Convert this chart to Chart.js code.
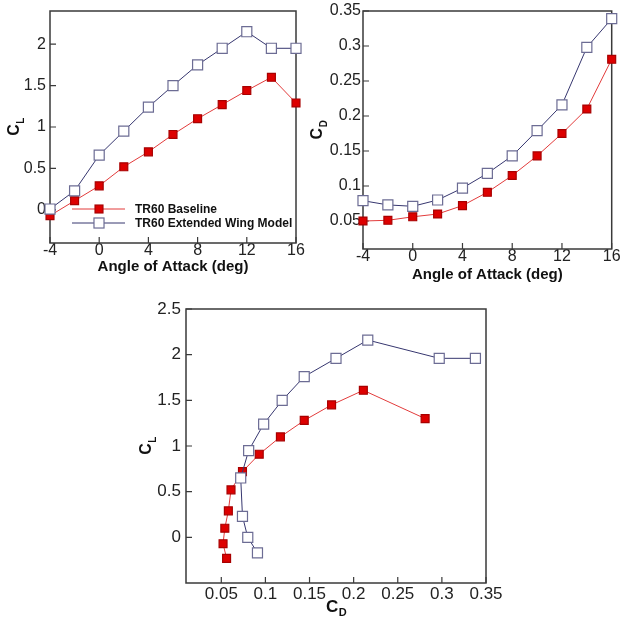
<!DOCTYPE html>
<html>
<head>
<meta charset="utf-8">
<title>TR60 aerodynamic coefficients</title>
<script src="https://cdn.jsdelivr.net/npm/chart.js@4.4.0/dist/chart.umd.min.js"></script>
<style>
    html, body { margin: 0; padding: 0; background: #fff; }
    #page { position: relative; width: 620px; height: 625px; overflow: hidden; }
    canvas { position: absolute; }
</style>
</head>
<body>
<div id="page">
    <canvas id="clChart" width="310" height="290" style="left:0;top:0"></canvas>
    <canvas id="cdChart" width="310" height="290" style="left:310px;top:0"></canvas>
    <canvas id="polarChart" width="390" height="335" style="left:130px;top:290px"></canvas>
</div>
<script>
    "use strict";

    var seriesNames = ['TR60 Baseline', 'TR60 Extended Wing Model'];

    var angles = [-4, -2, 0, 2, 4, 6, 8, 10, 12, 14, 16];
    var clBaseline = [-0.07, 0.11, 0.29, 0.52, 0.70, 0.91, 1.10, 1.27, 1.44, 1.60, 1.29];
    var clExtended = [0.01, 0.23, 0.66, 0.95, 1.24, 1.50, 1.75, 1.95, 2.15, 1.95, 1.95];
    var cdBaseline = [0.050, 0.051, 0.056, 0.060, 0.072, 0.091, 0.115, 0.143, 0.175, 0.210, 0.281];
    var cdExtended = [0.079, 0.073, 0.071, 0.080, 0.097, 0.118, 0.143, 0.179, 0.216, 0.298, 0.339];

    // drag polar (CL against CD)
    var polarCdBaseline = [0.056, 0.052, 0.054, 0.058, 0.061, 0.074, 0.093, 0.117, 0.144, 0.175, 0.211, 0.281];
    var polarClBaseline = [-0.23, -0.07, 0.10, 0.29, 0.52, 0.72, 0.91, 1.10, 1.28, 1.45, 1.61, 1.30];
    var polarCdExtended = [0.091, 0.080, 0.074, 0.072, 0.081, 0.098, 0.119, 0.144, 0.180, 0.216, 0.297, 0.338];
    var polarClExtended = [-0.17, 0.00, 0.23, 0.65, 0.95, 1.24, 1.50, 1.76, 1.96, 2.16, 1.96, 1.96];

    var angleTicks = [-4, 0, 4, 8, 12, 16];
    var clTicks = [0, 0.5, 1, 1.5, 2];
    var cdTicks = [0.05, 0.1, 0.15, 0.2, 0.25, 0.3, 0.35];
    var polarClTicks = [0, 0.5, 1, 1.5, 2, 2.5];
    var polarCdTicks = [0.05, 0.1, 0.15, 0.2, 0.25, 0.3, 0.35];

    var FONT = '"Liberation Sans", Arial, Helvetica, sans-serif';
    Chart.defaults.font.family = FONT;

    var seriesStyles = [
        { line: '#e23b3b', fill: '#dd0000', edge: '#a80000', radius: 5.6, order: 1 },
        { line: '#36366f', fill: '#ffffff', edge: '#6c6c94', radius: 7.1, order: 0 }
    ];

    function pairUp(xs, ys) {
        return xs.map(function (x, i) { return { x: x, y: ys[i] }; });
    }

    function makeSeries(index, xs, ys) {
        var st = seriesStyles[index];
        return {
            label: seriesNames[index],
            data: pairUp(xs, ys),
            showLine: true,
            borderColor: st.line,
            borderWidth: 1,
            pointStyle: 'rect',
            pointRadius: st.radius,
            pointHoverRadius: st.radius,
            pointBackgroundColor: st.fill,
            pointBorderColor: st.edge,
            pointBorderWidth: 1.2,
            order: st.order,
            clip: false
        };
    }

    function makeAxis(horizontal, min, max, tickValues, size, fontSize, pad, title) {
        return {
            type: 'linear',
            min: min,
            max: max,
            grid: { display: false, drawTicks: false },
            border: { display: false },
            ticks: {
                color: '#222',
                padding: pad,
                autoSkip: false,
                maxRotation: 0,
                font: { size: fontSize, lineHeight: 1 },
                callback: function (v) { return String(v); }
            },
            title: title || { display: false },
            afterBuildTicks: function (scale) {
                scale.ticks = tickValues.map(function (v) { return { value: v }; });
            },
            afterFit: function (scale) {
                if (horizontal) {
                    scale.height = size;
                } else {
                    scale.width = size;
                }
                scale.paddingLeft = 0;
                scale.paddingRight = 0;
                scale.paddingTop = 0;
                scale.paddingBottom = 0;
            }
        };
    }

    function angleTitle(padBottom) {
        return {
            display: true,
            text: 'Angle of Attack (deg)',
            color: '#111',
            font: { size: 15, weight: 'bold' },
            padding: { top: 0, bottom: padBottom }
        };
    }

    function drawSubLabel(ctx, main, sub, x, y, rotate, size) {
        var mainFont = 'bold ' + size + 'px ' + FONT;
        var subFont = 'bold ' + Math.round(size * 0.62) + 'px ' + FONT;
        ctx.save();
        ctx.translate(x, y);
        if (rotate) {
            ctx.rotate(-Math.PI / 2);
        }
        ctx.font = mainFont;
        var w1 = ctx.measureText(main).width;
        ctx.font = subFont;
        var w2 = ctx.measureText(sub).width;
        var start = -(w1 + w2) / 2;
        ctx.fillStyle = '#111';
        ctx.textAlign = 'left';
        ctx.textBaseline = 'middle';
        ctx.font = mainFont;
        ctx.fillText(main, start, 0);
        ctx.font = subFont;
        ctx.fillText(sub, start + w1 + 0.5, size * 0.38);
        ctx.restore();
    }

    // frame, inward tick marks, subscript titles and the inset legend
    var decorPlugin = {
        id: 'decor',
        beforeDatasetsDraw: function (chart) {
            var ctx = chart.ctx;
            var area = chart.chartArea;
            var xs = chart.scales.x;
            var ys = chart.scales.y;
            ctx.save();
            ctx.strokeStyle = '#3a3a3a';
            ctx.lineWidth = 1.5;
            ctx.strokeRect(area.left, area.top, area.right - area.left, area.bottom - area.top);
            ctx.lineWidth = 1.2;
            ctx.beginPath();
            xs.ticks.forEach(function (t) {
                var px = xs.getPixelForValue(t.value);
                ctx.moveTo(px, area.bottom);
                ctx.lineTo(px, area.bottom - 6);
            });
            ys.ticks.forEach(function (t) {
                var py = ys.getPixelForValue(t.value);
                ctx.moveTo(area.left, py);
                ctx.lineTo(area.left + 6, py);
            });
            ctx.stroke();
            ctx.restore();
        },
        afterDraw: function (chart, args, opts) {
            var ctx = chart.ctx;
            var area = chart.chartArea;
            var midY = (area.top + area.bottom) / 2;
            if (opts.yTitle) {
                drawSubLabel(ctx, 'C', opts.yTitle, area.left - opts.yTitleGap, midY, true, 16);
            }
            if (opts.xTitle) {
                drawSubLabel(ctx, 'C', opts.xTitle, (area.left + area.right) / 2, area.bottom + opts.xTitleGap, false, 17);
            }
            if (opts.legend) {
                var rows = [209, 223];
                ctx.save();
                chart.data.datasets.forEach(function (ds, i) {
                    var y = rows[i];
                    var side = ds.pointRadius * Math.SQRT1_2;
                    ctx.strokeStyle = ds.borderColor;
                    ctx.lineWidth = 1;
                    ctx.beginPath();
                    ctx.moveTo(72, y);
                    ctx.lineTo(125, y);
                    ctx.stroke();
                    ctx.fillStyle = ds.pointBackgroundColor;
                    ctx.fillRect(99 - side, y - side, side * 2, side * 2);
                    ctx.strokeStyle = ds.pointBorderColor;
                    ctx.lineWidth = 1.2;
                    ctx.strokeRect(99 - side, y - side, side * 2, side * 2);
                    ctx.fillStyle = '#111';
                    ctx.font = 'bold 12px ' + FONT;
                    ctx.textAlign = 'left';
                    ctx.textBaseline = 'middle';
                    ctx.fillText(ds.label, 135, y + 0.5);
                });
                ctx.restore();
            }
        }
    };

    function renderChart(canvasId, datasets, padding, scales, decor) {
        var canvas = document.getElementById(canvasId);
        if (!canvas) {
            return null;
        }
        return new Chart(canvas.getContext('2d'), {
            type: 'scatter',
            data: { datasets: datasets },
            options: {
                responsive: false,
                animation: false,
                layout: { padding: padding },
                plugins: {
                    legend: { display: false },
                    tooltip: { enabled: false },
                    decor: decor
                },
                scales: scales
            },
            plugins: [decorPlugin]
        });
    }

    renderChart('clChart',
        [makeSeries(0, angles, clBaseline), makeSeries(1, angles, clExtended)],
        { left: 0, top: 11, right: 14, bottom: 0 },
        {
            x: makeAxis(true, -4, 16, angleTicks, 47, 16, 0, angleTitle(14)),
            y: makeAxis(false, -0.4, 2.4, clTicks, 50, 16, 4)
        },
        { yTitle: 'L', yTitleGap: 35, legend: true });

    renderChart('cdChart',
        [makeSeries(0, angles, cdBaseline), makeSeries(1, angles, cdExtended)],
        { left: 0, top: 11, right: 7, bottom: 0 },
        {
            x: makeAxis(true, -4, 16, angleTicks, 41, 16, 0, angleTitle(6)),
            y: makeAxis(false, 0.01, 0.35, cdTicks, 53, 16, 2)
        },
        { yTitle: 'D', yTitleGap: 45 });

    renderChart('polarChart',
        [makeSeries(0, polarCdBaseline, polarClBaseline), makeSeries(1, polarCdExtended, polarClExtended)],
        { left: 0, top: 19, right: 34, bottom: 0 },
        {
            x: makeAxis(true, 0.01, 0.35, polarCdTicks, 42, 17, 3),
            y: makeAxis(false, -0.5, 2.5, polarClTicks, 56, 17, 5)
        },
        { yTitle: 'L', yTitleGap: 39, xTitle: 'D', xTitleGap: 24 });
</script>
</body>
</html>
